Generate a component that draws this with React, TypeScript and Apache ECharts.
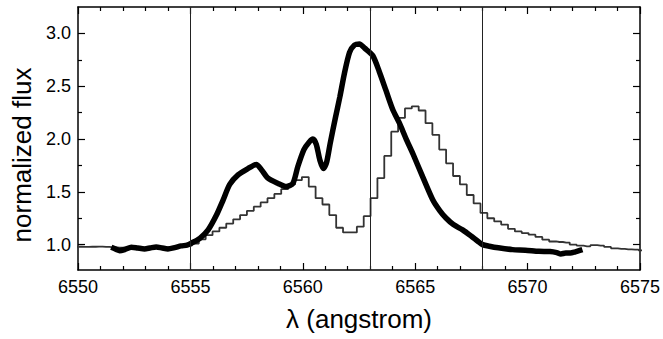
import React, { useEffect, useRef } from "react";
import * as echarts from "echarts";

// thin histogram-like spectrum (pixel centres, angstrom) and normalized flux
const thinLambda = [
  6549.72, 6550.03, 6550.33, 6550.64, 6550.94, 6551.25, 6551.56, 6551.86, 6552.17, 6552.47,
  6552.78, 6553.08, 6553.39, 6553.69, 6554.0, 6554.31, 6554.61, 6554.92, 6555.22, 6555.53,
  6555.83, 6556.14, 6556.44, 6556.75, 6557.06, 6557.36, 6557.67, 6557.97, 6558.28, 6558.58,
  6558.89, 6559.19, 6559.5, 6559.81, 6560.11, 6560.42, 6560.72, 6561.03, 6561.33, 6561.64,
  6561.94, 6562.25, 6562.56, 6562.86, 6563.17, 6563.47, 6563.78, 6564.09, 6564.39, 6564.7,
  6565.0, 6565.31, 6565.61, 6565.92, 6566.22, 6566.53, 6566.84, 6567.14, 6567.45, 6567.75,
  6568.06, 6568.36, 6568.67, 6568.98, 6569.28, 6569.59, 6569.89, 6570.2, 6570.5, 6570.81,
  6571.11, 6571.42, 6571.72, 6572.03, 6572.34, 6572.64, 6572.95, 6573.25, 6573.56, 6573.86,
  6574.17, 6574.48, 6574.78, 6575.09,
];
const thinFlux = [
  0.98, 0.98, 0.978, 0.98, 0.982, 0.978, 0.975, 0.972, 0.975, 0.97,
  0.972, 0.975, 0.972, 0.97, 0.975, 0.98, 0.985, 0.99, 1.01, 1.05,
  1.09, 1.125, 1.16, 1.2, 1.24, 1.28, 1.32, 1.36, 1.4, 1.44,
  1.48, 1.525, 1.57, 1.61, 1.64, 1.55, 1.44, 1.38, 1.28, 1.16,
  1.116, 1.116, 1.17, 1.27, 1.44, 1.63, 1.84, 2.07, 2.2, 2.29,
  2.31, 2.27, 2.15, 2.04, 1.9, 1.77, 1.65, 1.57, 1.47, 1.39,
  1.3, 1.25, 1.22, 1.19, 1.15, 1.125, 1.11, 1.094, 1.073, 1.047,
  1.03, 1.025, 1.02, 1.0, 0.99, 0.984, 0.995, 0.99, 0.978, 0.965,
  0.96, 0.955, 0.953, 0.946,
];

// thick smooth profile
const thickLambda = [
  6551.48, 6551.7, 6551.85, 6552.1, 6552.37, 6552.65, 6552.96, 6553.2, 6553.48, 6553.75,
  6554.0, 6554.3, 6554.59, 6554.85, 6555.05, 6555.42, 6555.79, 6556.16, 6556.45, 6556.75,
  6557.12, 6557.56, 6557.93, 6558.16, 6558.45, 6558.9, 6559.27, 6559.56, 6559.78, 6560.05,
  6560.28, 6560.45, 6560.6, 6560.76, 6560.92, 6561.06, 6561.22, 6561.45, 6561.65, 6561.85,
  6562.08, 6562.3, 6562.52, 6562.75, 6563.11, 6563.4, 6563.7, 6564.0, 6564.3, 6564.6,
  6564.89, 6565.33, 6565.78, 6566.1, 6566.37, 6566.7, 6567.11, 6567.5, 6567.8, 6568.0,
  6568.3, 6568.7, 6569.33, 6569.9, 6570.5, 6571.0, 6571.3, 6571.48, 6571.7, 6571.9,
  6572.1, 6572.44,
];
const thickFlux = [
  0.975, 0.955, 0.943, 0.955, 0.975, 0.968, 0.96, 0.968, 0.978, 0.968,
  0.96, 0.972, 0.988, 0.995, 1.015, 1.06, 1.14, 1.28, 1.42, 1.57,
  1.66, 1.72, 1.76, 1.71, 1.63, 1.58, 1.55, 1.58, 1.74, 1.9,
  1.97, 2.0, 1.95, 1.8, 1.72, 1.78, 1.96, 2.2, 2.4, 2.62,
  2.82, 2.89, 2.9, 2.86, 2.79, 2.64, 2.46, 2.28, 2.15, 2.0,
  1.865, 1.644, 1.425, 1.32, 1.252, 1.19, 1.14, 1.08, 1.03, 1.0,
  0.985, 0.97, 0.953, 0.948, 0.937, 0.935, 0.925, 0.912, 0.92, 0.92,
  0.93, 0.953,
];

const yMajorTicks = [1.0, 1.5, 2.0, 2.5, 3.0];
const yMinorTicks = [1.25, 1.75, 2.25, 2.75];
const markerLambdas = [6555, 6563, 6568];

const FONT = "Arial";

export default function App() {
  const ref = useRef<HTMLDivElement>(null);

  useEffect(() => {
    if (!ref.current) return;
    const chart = echarts.init(ref.current, null, { renderer: "svg" });

    const axisLine = { show: true, lineStyle: { color: "#000", width: 1.5 } };

    const xBase = {
      type: "value",
      min: 6550,
      max: 6575,
      interval: 5,
      axisLine,
      axisTick: { show: true, inside: true, length: 7, lineStyle: { color: "#000", width: 1.2 } },
      minorTick: { show: true, splitNumber: 5, length: 4, lineStyle: { color: "#000", width: 1.2 } },
      splitLine: { show: false },
      minorSplitLine: { show: false },
    };

    const yBase = (position: string, ticks: number[], len: number, labels: boolean, lineShow: boolean) => ({
      type: "value",
      min: 0.76,
      max: 3.25,
      position,
      axisLine: { ...axisLine, show: lineShow },
      axisTick: {
        show: true,
        inside: true,
        length: len,
        customValues: ticks,
        lineStyle: { color: "#000", width: 1.2 },
      },
      axisLabel: labels
        ? {
            show: true,
            customValues: ticks,
            formatter: (v: number) => v.toFixed(1),
            color: "#000",
            fontSize: 18,
            fontFamily: FONT,
            margin: 7,
          }
        : { show: false },
      splitLine: { show: false },
    });

    chart.setOption({
      animation: false,
      backgroundColor: "#fff",
      grid: { left: 78, right: 22, top: 7, bottom: 69, containLabel: false },
      xAxis: [
        {
          ...xBase,
          position: "bottom",
          axisLabel: {
            color: "#000",
            fontSize: 18,
            fontFamily: FONT,
            margin: 8,
            formatter: (v: number) => String(v),
          },
          name: "λ (angstrom)",
          nameLocation: "middle",
          nameGap: 36,
          nameTextStyle: { color: "#000", fontSize: 26, fontFamily: FONT },
        },
        {
          ...xBase,
          position: "top",
          axisLabel: { show: false },
        },
      ],
      yAxis: [
        {
          ...yBase("left", yMajorTicks, 7, true, true),
          name: "normalized flux",
          nameLocation: "middle",
          nameGap: 42,
          nameTextStyle: { color: "#000", fontSize: 26, fontFamily: FONT, padding: [0, 33, 0, 0] },
        },
        yBase("left", yMinorTicks, 4, false, false),
        yBase("right", yMajorTicks, 7, false, true),
        yBase("right", yMinorTicks, 4, false, false),
      ],
      series: [
        {
          type: "line",
          xAxisIndex: 0,
          yAxisIndex: 0,
          data: thinLambda.map((x, i) => [x, thinFlux[i]]),
          step: "middle",
          showSymbol: false,
          symbol: "none",
          lineStyle: { color: "#333", width: 1.8 },
          z: 2,
          markLine: {
            silent: true,
            symbol: "none",
            label: { show: false },
            lineStyle: { color: "#222", width: 1, type: "solid" },
            data: markerLambdas.map((v) => ({ xAxis: v })),
          },
        },
        {
          type: "line",
          xAxisIndex: 0,
          yAxisIndex: 0,
          data: thickLambda.map((x, i) => [x, thickFlux[i]]),
          smooth: 0.25,
          showSymbol: false,
          symbol: "none",
          lineStyle: { color: "#000", width: 5.5 },
          z: 3,
        },
      ],
    });

    return () => chart.dispose();
  }, []);

  return (
    <div
      ref={ref}
      style={{ position: "fixed", left: 0, top: 0, width: 663, height: 339, background: "#fff" }}
    />
  );
}
